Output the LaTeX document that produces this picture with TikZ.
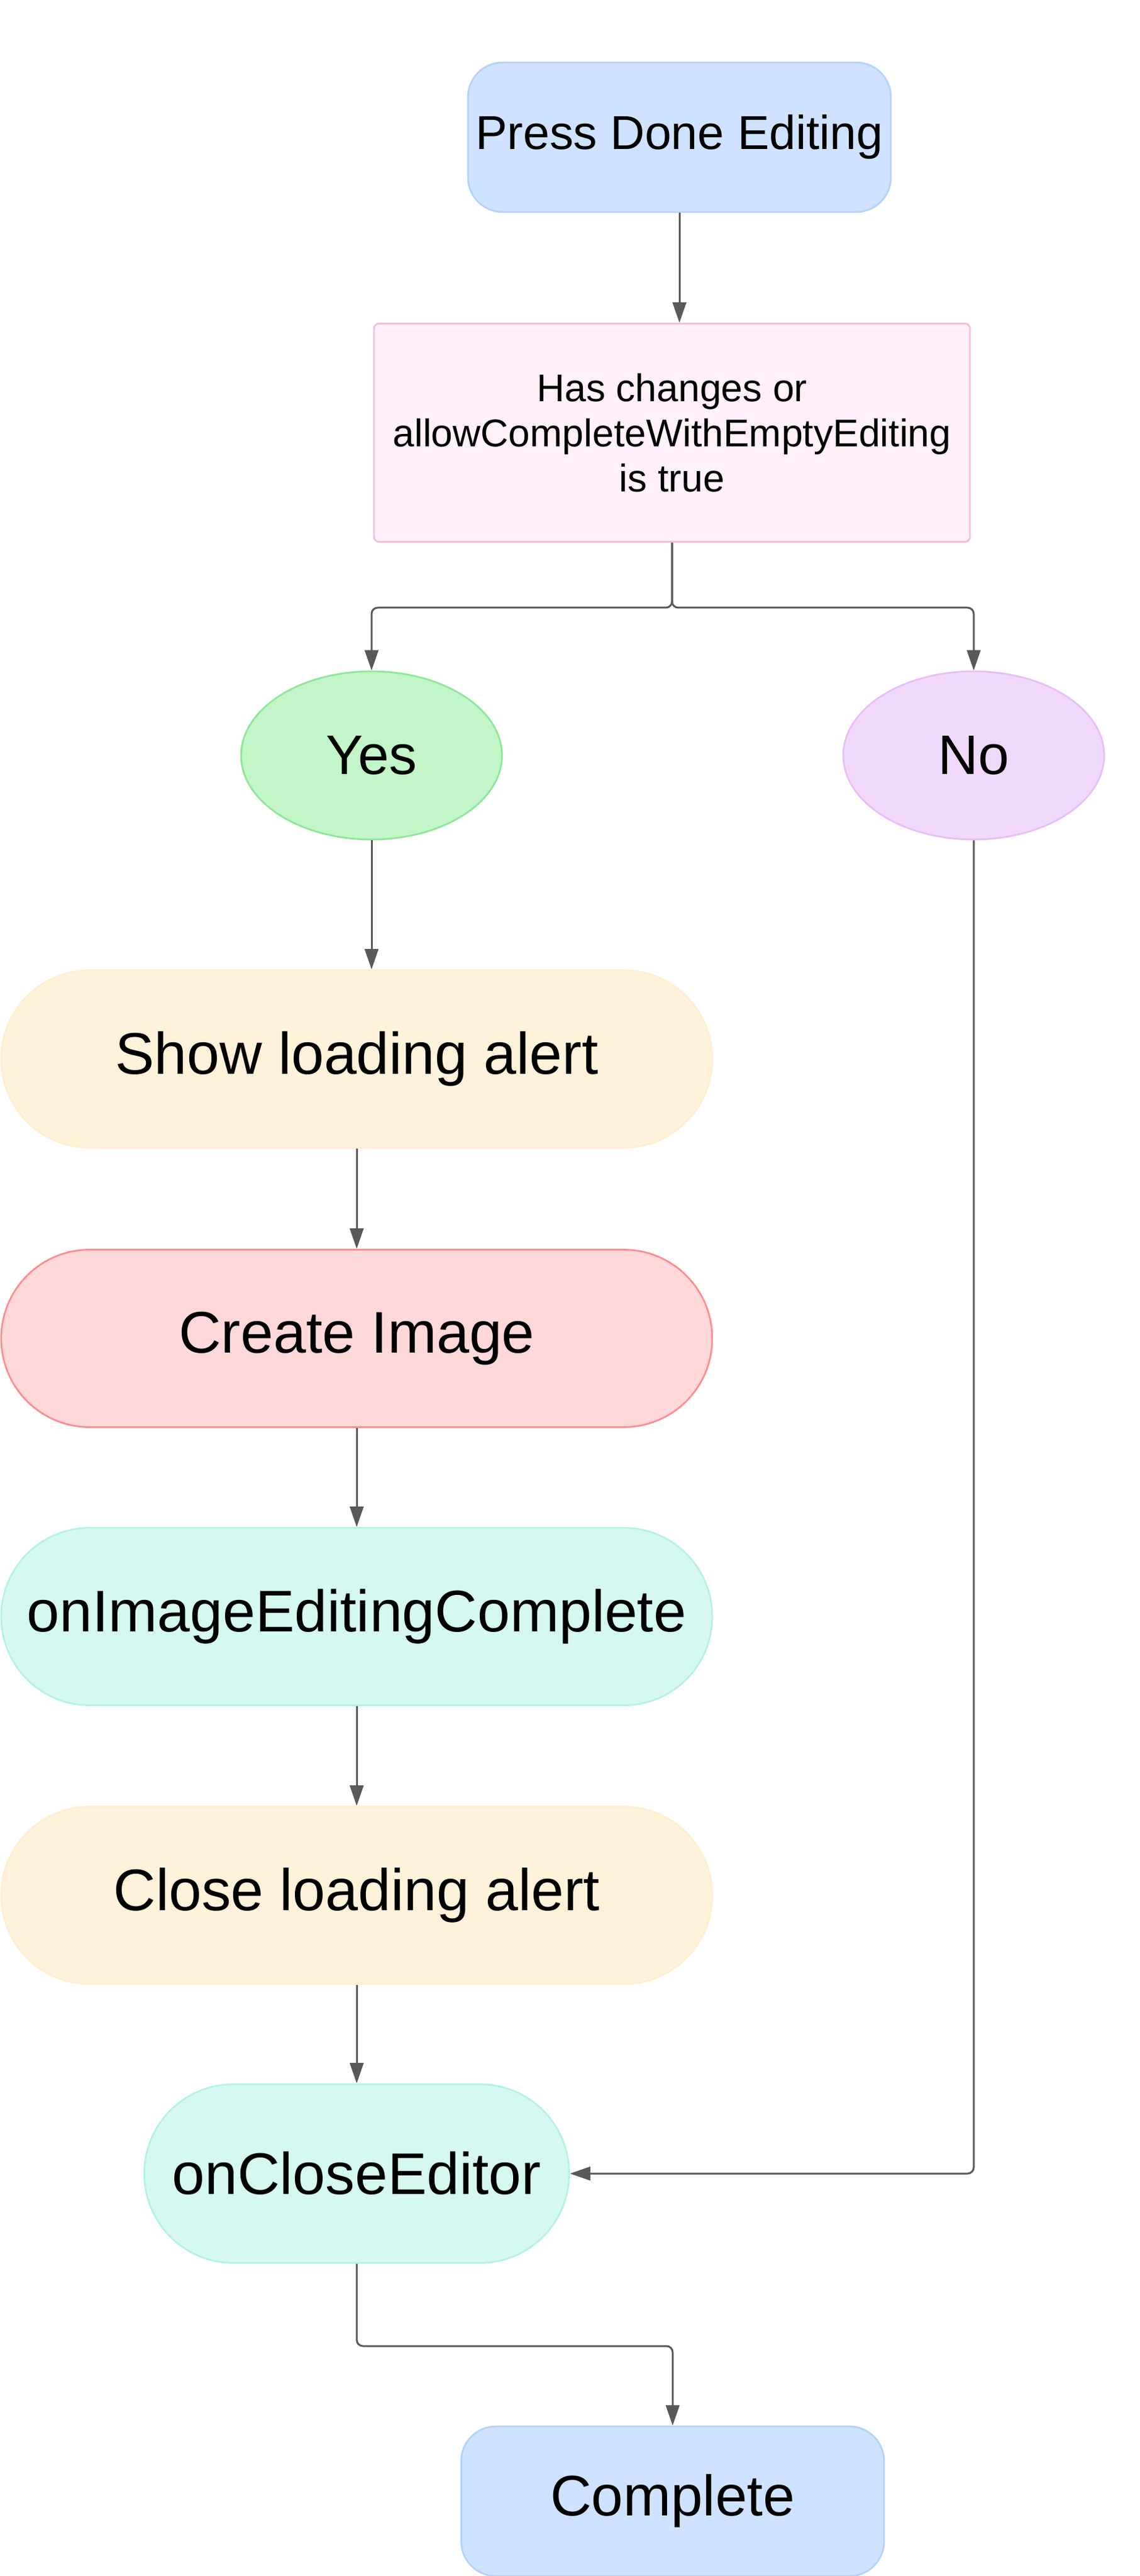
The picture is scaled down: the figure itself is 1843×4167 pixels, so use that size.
\documentclass[tikz,border=0pt]{standalone}
\usepackage{fontspec}
\setmainfont{Liberation Sans}
\usetikzlibrary{arrows.meta,shapes.geometric}
\definecolor{lineclr}{RGB}{89,89,89}
\definecolor{bluefill}{RGB}{207,226,255}
\definecolor{bluedraw}{RGB}{178,210,252}
\definecolor{pinkfill}{RGB}{255,240,250}
\definecolor{pinkdraw}{RGB}{250,188,218}
\definecolor{greenfill}{RGB}{194,245,199}
\definecolor{greendraw}{RGB}{142,230,152}
\definecolor{purplefill}{RGB}{241,217,252}
\definecolor{purpledraw}{RGB}{231,190,250}
\definecolor{yellowfill}{RGB}{255,242,218}
\definecolor{yellowdraw}{RGB}{255,238,208}
\definecolor{redfill}{RGB}{255,216,218}
\definecolor{reddraw}{RGB}{255,140,145}
\definecolor{tealfill}{RGB}{213,248,241}
\definecolor{tealdraw}{RGB}{180,242,230}
\tikzset{
  base/.style={inner sep=0pt, line width=0.55pt, align=center, text=black},
  termbox/.style={base, rectangle, rounded corners=11.2pt, minimum width=136.8pt, minimum height=48.4pt,
     fill=bluefill, draw=bluedraw, font=\fontsize{18.5}{22}\selectfont},
  decbox/.style={base, rectangle, rounded corners=1.6pt, minimum width=192.8pt, minimum height=70.6pt,
     fill=pinkfill, draw=pinkdraw, font=\fontsize{12.5}{14.6}\selectfont},
  ovalnode/.style={base, ellipse, minimum width=84.4pt, minimum height=54.4pt,
     font=\fontsize{18}{21}\selectfont},
  stadium/.style={base, rectangle, rounded corners=28.6pt, minimum width=230pt, minimum height=57.4pt,
     font=\fontsize{19}{22}\selectfont},
  smallstadium/.style={base, rectangle, rounded corners=28.8pt, minimum width=137.4pt, minimum height=57.8pt,
     font=\fontsize{19}{22}\selectfont},
  arr/.style={draw=lineclr, line width=0.6pt, rounded corners=2pt,
     -{Triangle[length=6.6pt,width=4.4pt]}}
}
\begin{document}
\begin{tikzpicture}[x=0.2pt,y=-0.2pt]
\useasboundingbox (0,0) rectangle (1843,4167);
\node[termbox, font=\fontsize{15.4}{18}\selectfont] (press) at (1099,222) {Press Done Editing};
\node[decbox] (dec) at (1087,700) {Has changes or\\allowCompleteWithEmptyEditing\\is true};
\node[ovalnode, fill=greenfill, draw=greendraw] (yes) at (601,1222) {Yes};
\node[ovalnode, fill=purplefill, draw=purpledraw] (no) at (1575,1222) {No};
\node[stadium, fill=yellowfill, draw=yellowdraw] (show) at (577,1713) {Show loading alert};
\node[stadium, fill=redfill, draw=reddraw] (create) at (577,2165) {Create Image};
\node[stadium, fill=tealfill, draw=tealdraw] (oniec) at (577,2615) {onImageEditingComplete};
\node[stadium, fill=yellowfill, draw=yellowdraw] (close) at (577,3066) {Close loading alert};
\node[smallstadium, fill=tealfill, draw=tealdraw] (oce) at (577,3516) {onCloseEditor};
\node[termbox] (complete) at (1088,4046) {Complete};
\coordinate (split) at (1087,983);
\coordinate (bend) at (577,3795);
\draw[arr] (press.south) -- (press.south |- dec.north);
\draw[arr] (dec.south) -- (split) -| (yes.north);
\draw[arr] (dec.south) -- (split) -| (no.north);
\draw[arr] (yes.south) -- (yes.south |- show.north);
\draw[arr] (show.south) -- (create.north);
\draw[arr] (create.south) -- (oniec.north);
\draw[arr] (oniec.south) -- (close.north);
\draw[arr] (close.south) -- (oce.north);
\draw[arr] (no.south) |- (oce.east);
\draw[arr] (oce.south) -- (bend) -| (complete.north);
\end{tikzpicture}
\end{document}
